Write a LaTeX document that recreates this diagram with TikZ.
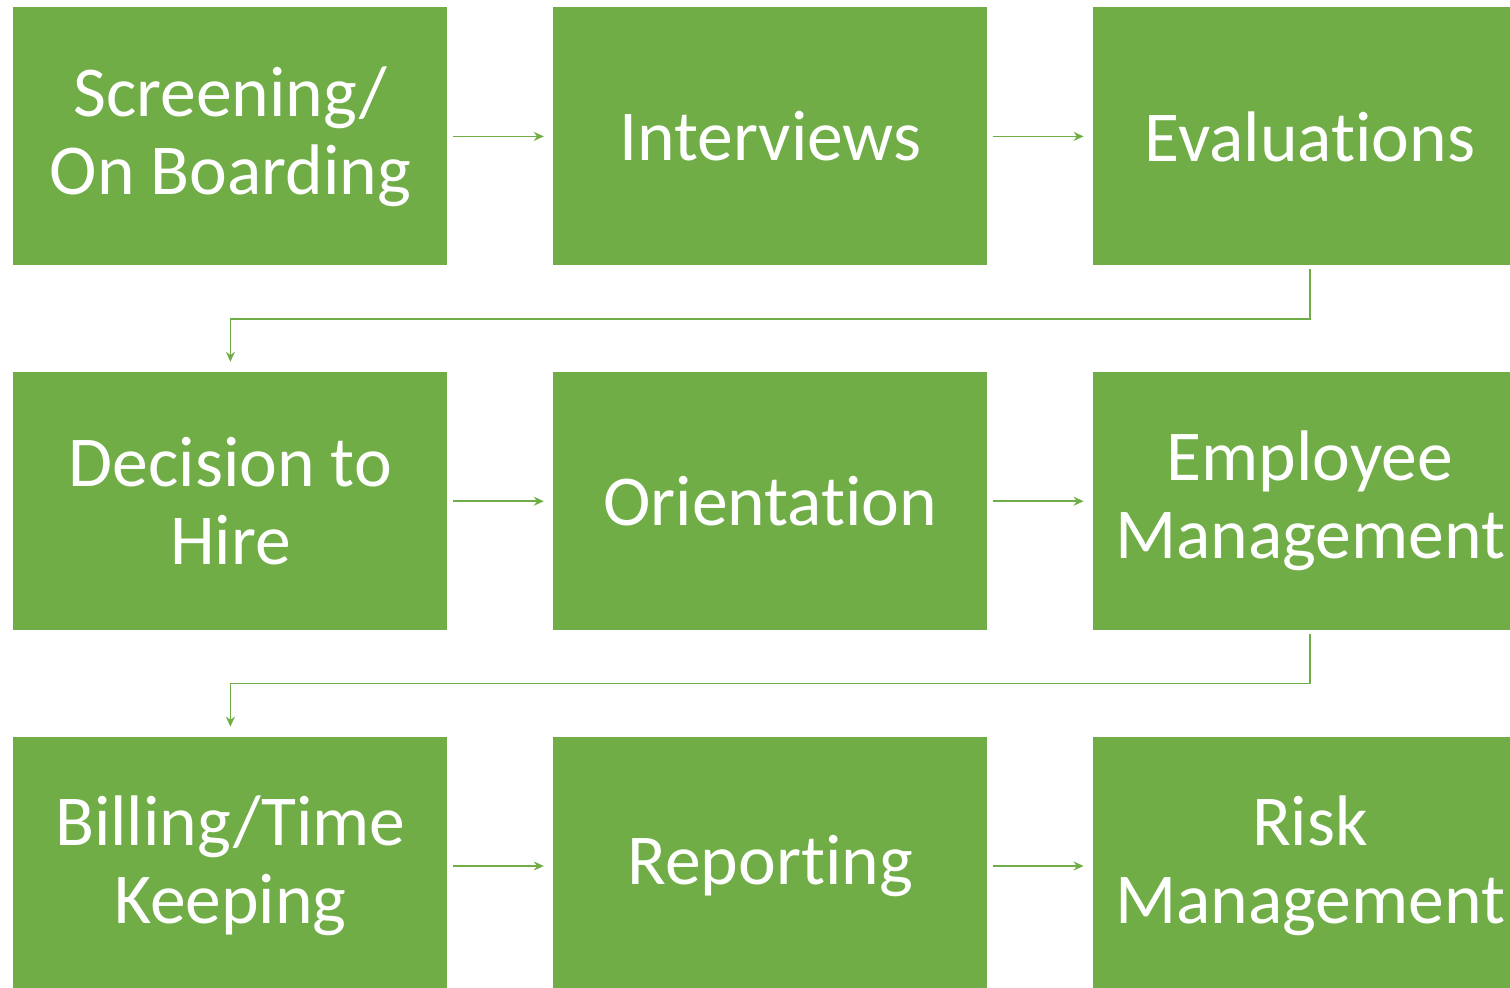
\documentclass[tikz,border=0pt]{standalone}
\usepackage{fontspec}
\setmainfont[Ligatures={NoCommon,NoContextual},RawFeature={-liga;-clig;-calt;-rlig;-ccmp}]{Carlito}
\usetikzlibrary{positioning,arrows.meta,calc}
\definecolor{stepgreen}{HTML}{70AD47}
\tikzset{
  stepbox/.style={fill=stepgreen, text=white, align=center, inner sep=0pt,
    minimum width=217pt, minimum height=129pt,
    font=\fontsize{35.8}{39}\selectfont},
  flow/.style={draw=stepgreen, line width=0.75pt,
    -{Stealth[length=5pt,width=4.5pt]}}
}
\begin{document}
\begin{tikzpicture}[x=0.5pt,y=-0.5pt,node distance=52.5pt and 52.5pt]
  \useasboundingbox (0,0) rectangle (1510,987);
  \clip (0,0) rectangle (1510,987);
  % first row
  \node[stepbox, anchor=north west] (screen) at (13,7) {Screening/\\On Boarding};
  \node[stepbox, right=of screen] (interview) {Interviews};
  \node[stepbox, right=of interview] (eval) {Evaluations};
  % second row
  \node[stepbox, below=53pt of screen] (decide) {Decision to\\Hire};
  \node[stepbox, right=of decide] (orient) {Orientation};
  \node[stepbox, right=of orient] (manage) {Employee\\Management};
  % third row
  \node[stepbox, below=53pt of decide] (billing) {Billing/Time\\Keeping};
  \node[stepbox, right=of billing] (report) {Reporting};
  \node[stepbox, right=of report] (risk) {Risk\\Management};

  \draw[flow, shorten <=2.5pt, shorten >=4.5pt] (screen) -- (interview);
  \draw[flow, shorten <=2.5pt, shorten >=4.5pt] (interview) -- (eval);
  \draw[flow, shorten <=2.5pt, shorten >=4.5pt] (decide) -- (orient);
  \draw[flow, shorten <=2.5pt, shorten >=4.5pt] (orient) -- (manage);
  \draw[flow, shorten <=2.5pt, shorten >=4.5pt] (billing) -- (report);
  \draw[flow, shorten <=2.5pt, shorten >=4.5pt] (report) -- (risk);

  % row turns
  \draw[flow, shorten <=1.5pt, shorten >=5pt] (eval.south)
    |- ($(eval.south)!0.5!(manage.north)$) -| (decide.north);
  \draw[flow, shorten <=1.5pt, shorten >=5pt] (manage.south)
    |- ($(manage.south)!0.5!(risk.north)$) -| (billing.north);
\end{tikzpicture}
\end{document}
